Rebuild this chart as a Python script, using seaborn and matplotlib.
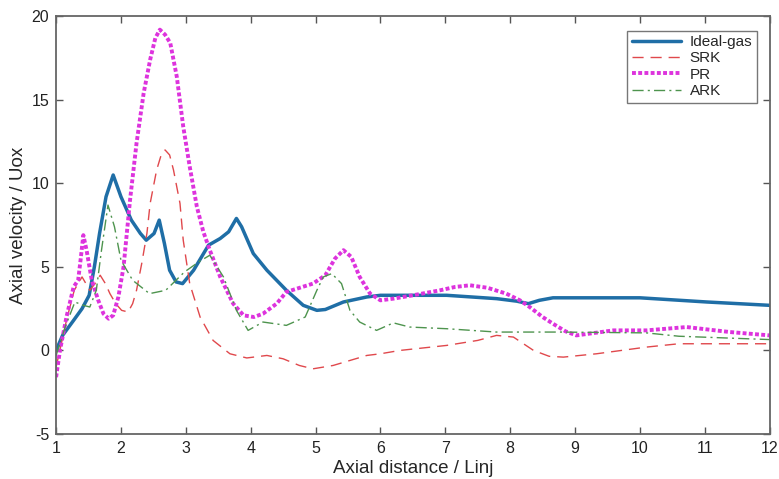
import numpy as np
import pandas as pd
import seaborn as sns
import matplotlib.pyplot as plt

# values
ideal_x = [1.0, 1.1, 1.27, 1.40, 1.51, 1.59, 1.67, 1.77, 1.88, 2.0, 2.16, 2.30, 2.39, 2.51, 2.59,
           2.67, 2.75, 2.85, 2.95, 3.12, 3.35, 3.53, 3.66, 3.78, 3.86, 4.04, 4.25, 4.55, 4.81, 5.02,
           5.15, 5.43, 5.79, 6.0, 6.30, 7.02, 7.79, 8.1, 8.28, 8.45, 8.66, 10.0, 11.03, 12.0]
ideal_y = [0.0, 0.9, 1.8, 2.5, 3.3, 5.0, 7.0, 9.2, 10.5, 9.2, 7.8, 7.0, 6.6, 7.0, 7.8,
           6.4, 4.8, 4.1, 4.0, 4.8, 6.3, 6.7, 7.1, 7.9, 7.4, 5.8, 4.8, 3.6, 2.7, 2.4,
           2.45, 2.9, 3.2, 3.3, 3.3, 3.3, 3.1, 2.95, 2.8, 3.0, 3.15, 3.15, 2.9, 2.7]

srk_x = [1.0, 1.16, 1.28, 1.40, 1.52, 1.60, 1.68, 1.76, 1.83, 1.92, 2.01, 2.11, 2.18, 2.24, 2.32,
         2.40, 2.45, 2.55, 2.62, 2.68, 2.75, 2.81, 2.91, 2.96, 3.06, 3.22, 3.42, 3.68, 3.94, 4.25,
         4.50, 4.75, 4.96, 5.27, 5.79, 6.0, 6.30, 7.02, 7.5, 7.79, 8.05, 8.36, 8.6, 8.82, 9.33,
         10.1, 10.6, 12.0]
srk_y = [-1.0, 1.8, 3.6, 4.4, 3.6, 4.0, 4.5, 4.0, 3.4, 2.8, 2.4, 2.3, 2.8, 3.6, 5.2,
         7.0, 8.8, 10.8, 11.7, 12.0, 11.7, 10.8, 8.8, 6.6, 4.0, 2.0, 0.6, -0.2, -0.45, -0.3,
         -0.5, -0.9, -1.1, -0.9, -0.3, -0.2, 0.0, 0.3, 0.6, 0.9, 0.8, 0.0, -0.35, -0.4, -0.2,
         0.2, 0.4, 0.4]

pr_x = [1.0, 1.06, 1.16, 1.27, 1.34, 1.38, 1.42, 1.47, 1.55, 1.65, 1.73, 1.81, 1.88, 1.96, 2.04,
        2.14, 2.24, 2.35, 2.45, 2.53, 2.60, 2.68, 2.76, 2.86, 2.96, 3.06, 3.17, 3.27, 3.37, 3.53,
        3.73, 3.89, 4.05, 4.19, 4.40, 4.55, 4.96, 5.15, 5.30, 5.43, 5.55, 5.68, 5.84, 6.0, 6.2,
        6.5, 6.92, 7.15, 7.38, 7.65, 7.94, 8.15, 8.30, 8.50, 8.66, 8.85, 9.02, 9.59, 10.1, 10.72,
        11.39, 12.0]
pr_y = [-1.6, 0.0, 2.0, 3.8, 4.2, 5.5, 6.9, 6.0, 4.2, 3.0, 2.2, 1.9, 2.1, 3.2, 5.0,
        9.0, 12.4, 15.4, 17.4, 18.7, 19.2, 18.9, 18.4, 16.4, 13.4, 11.0, 8.6, 7.1, 6.0, 4.4,
        2.8, 2.1, 2.0, 2.2, 2.8, 3.5, 4.0, 4.5, 5.5, 6.0, 5.6, 4.4, 3.4, 3.0, 3.1,
        3.3, 3.6, 3.8, 3.9, 3.75, 3.4, 3.0, 2.6, 2.0, 1.6, 1.15, 0.9, 1.2, 1.2, 1.4,
        1.1, 0.9]

ark_x = [1.0, 1.14, 1.29, 1.42, 1.52, 1.62, 1.70, 1.80, 1.90, 2.0, 2.18, 2.44, 2.69, 2.98, 3.2,
         3.37, 3.58, 3.78, 3.96, 4.19, 4.55, 4.84, 5.02, 5.12, 5.25, 5.40, 5.53, 5.68, 5.94, 6.20,
         6.45, 7.02, 7.79, 8.77, 10.1, 10.6, 12.0]
ark_y = [-0.3, 1.4, 2.9, 2.7, 2.6, 3.6, 6.0, 8.7, 7.4, 5.4, 4.2, 3.4, 3.6, 4.7, 5.3,
         5.7, 4.4, 2.4, 1.2, 1.7, 1.5, 2.0, 3.6, 4.4, 4.6, 4.0, 2.4, 1.7, 1.2, 1.65,
         1.4, 1.3, 1.1, 1.1, 1.05, 0.85, 0.65]

series = [
    ("Ideal-gas", ideal_x, ideal_y, "#1f6ea6", "-", 2.5),
    ("SRK", srk_x, srk_y, "#e0484c", (0, (8, 5)), 1.0),
    ("PR", pr_x, pr_y, "#dd33dd", (0, (1, 0.6)), 2.8),
    ("ARK", ark_x, ark_y, "#4e944e", (0, (8, 3, 1.5, 3)), 1.0),
]

sns.set_theme(style="white")
plt.rcParams['font.family'] = ['Liberation Sans', 'DejaVu Sans']
plt.rcParams['axes.unicode_minus'] = False

fig, ax = plt.subplots(figsize=(7.79, 4.79), dpi=100)
fig.subplots_adjust(left=0.072, right=0.988, bottom=0.094, top=0.966)

for name, xs, ys, col, ls, lw in series:
    df = pd.DataFrame({"x": xs, "y": ys})
    sns.lineplot(data=df, x="x", y="y", ax=ax, color=col, linestyle=ls, linewidth=lw,
                 label=name, sort=False, estimator=None)

ax.set_xlim(1, 12)
ax.set_ylim(-5, 20)
ax.set_xticks(range(1, 13))
ax.set_yticks([-5, 0, 5, 10, 15, 20])
ax.set_xlabel("Axial distance / Linj", fontsize=13.5, labelpad=3)
ax.set_ylabel("Axial velocity / Uox", fontsize=13.5, labelpad=3)
ax.tick_params(direction="in", length=5, width=1, colors="#555555", labelcolor="#222222",
               labelsize=11.5, pad=5, top=True, right=True, left=True, bottom=True)
for sp in ax.spines.values():
    sp.set_color("#666666")
    sp.set_linewidth(1.3)

leg = ax.legend(loc="upper right", fontsize=11, frameon=True, fancybox=False,
                borderpad=0.3, labelspacing=0.15, handlelength=3.2, handletextpad=0.6,
                bbox_to_anchor=(0.993, 0.984))
leg.get_frame().set_edgecolor("#555555")
leg.get_frame().set_linewidth(1.0)

fig.savefig("out.png", dpi=100)
